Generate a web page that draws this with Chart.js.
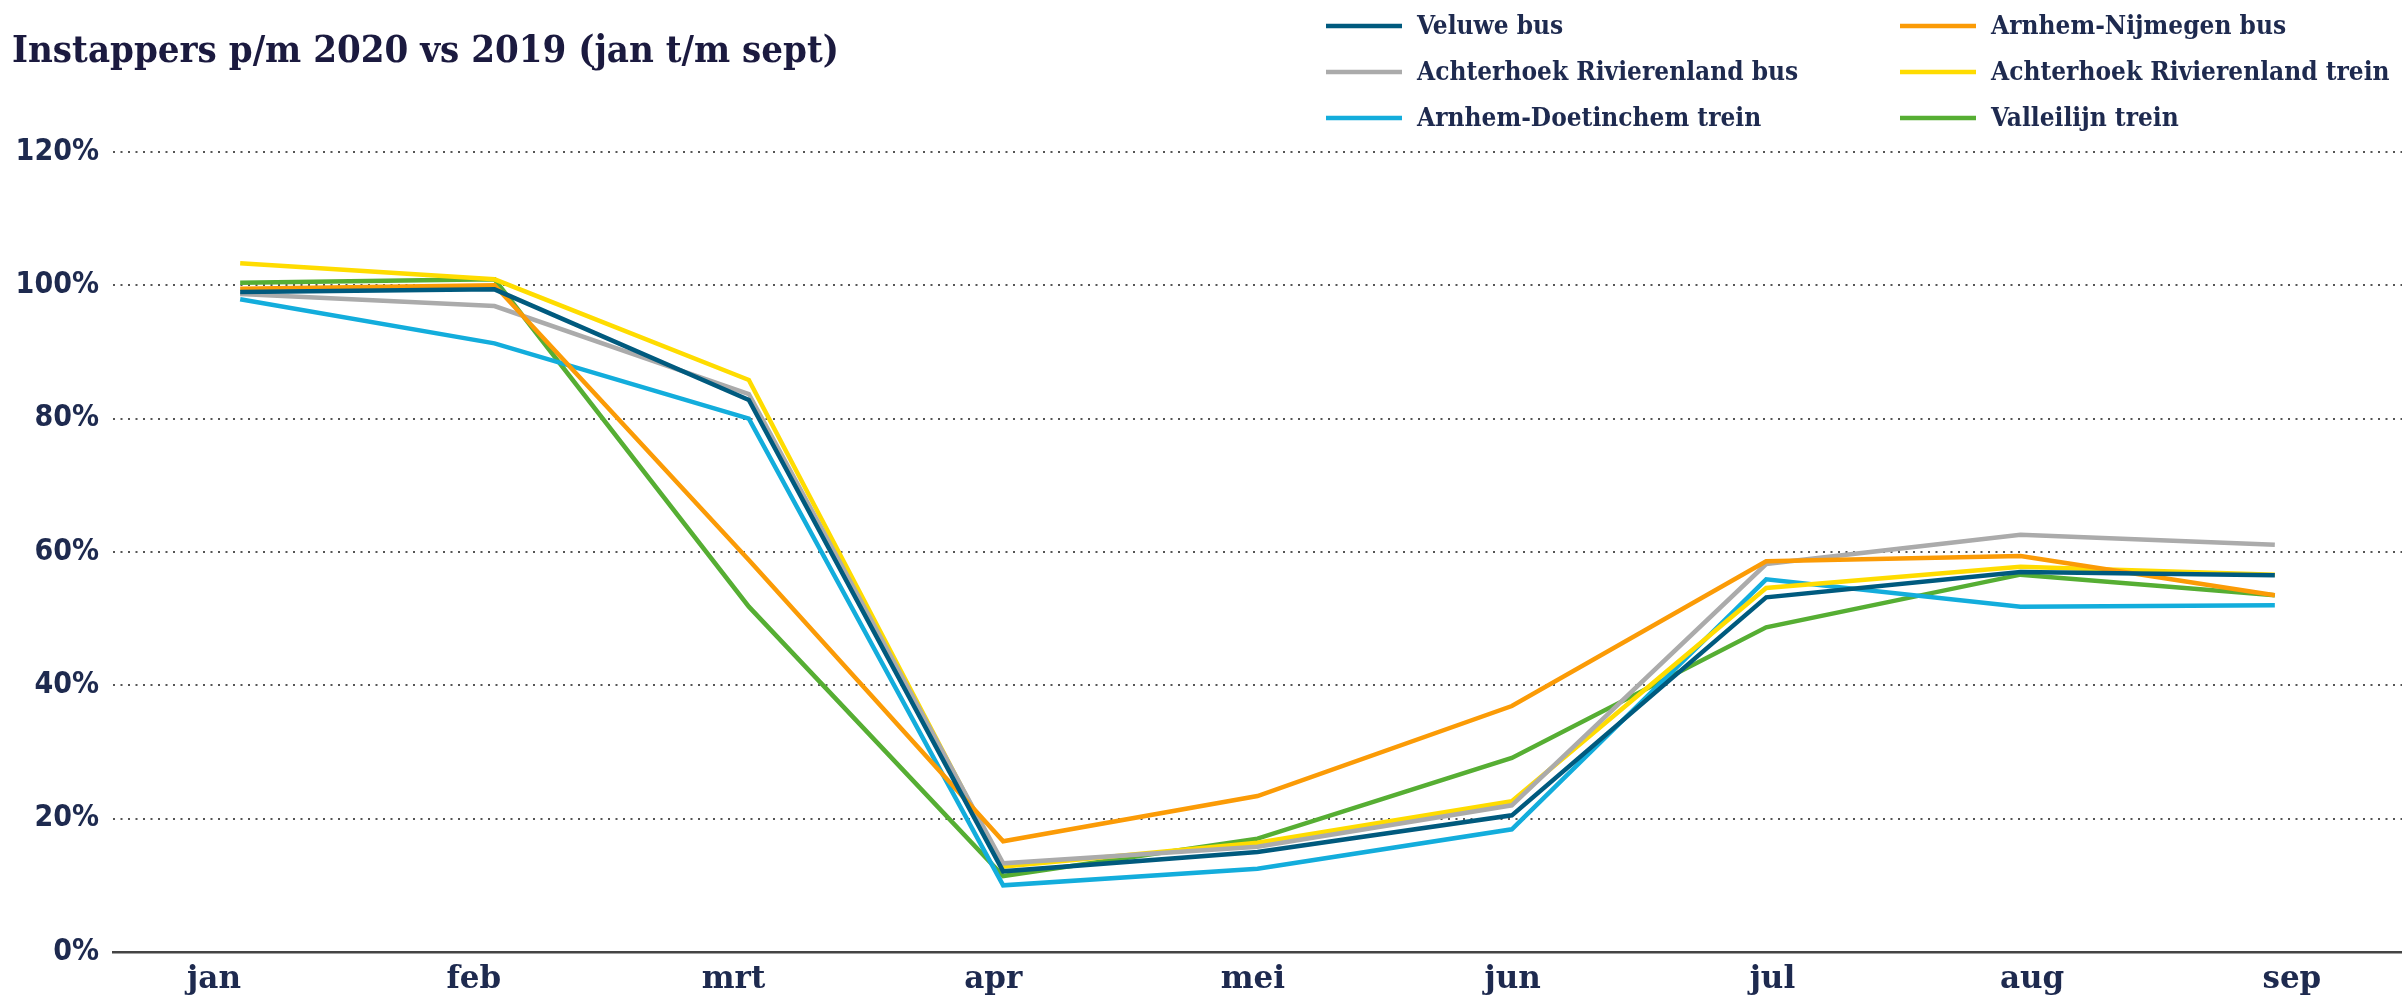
<!DOCTYPE html>
<html lang="nl">
<head>
    <meta charset="UTF-8">
    <title>Instappers p/m 2020 vs 2019</title>
    <script src="https://cdn.jsdelivr.net/npm/chart.js"></script>
    <style>
        html, body {
            margin: 0;
            padding: 0;
            background: #ffffff;
        }
        #wrap {
            width: 2402px;
            height: 997px;
        }
    </style>
</head>
<body>

<div id="wrap"><canvas id="instappers"></canvas></div>

<script>
    // maanden en tick labels
    const months = ['jan', 'feb', 'mrt', 'apr', 'mei', 'jun', 'jul', 'aug', 'sep'];
    const yTicks = [0, 20, 40, 60, 80, 100, 120];

    // instappers 2020 als % van 2019
    const veluweBus         = [99.0, 99.4, 82.8, 12.1, 15.0, 20.5, 53.2, 57.0, 56.5];
    const arnhemNijmegenBus = [99.5, 100.0, 58.8, 16.6, 23.4, 36.9, 58.6, 59.4, 53.5];
    const achterhoekBus     = [98.7, 96.9, 83.7, 13.3, 15.8, 22.0, 58.2, 62.6, 61.1];
    const achterhoekTrein   = [103.3, 100.9, 85.8, 12.8, 16.4, 22.6, 54.6, 57.8, 56.6];
    const arnhemDoetinchem  = [97.9, 91.3, 80.0, 10.0, 12.5, 18.4, 55.9, 51.8, 52.0];
    const valleilijnTrein   = [100.4, 100.9, 51.8, 11.4, 17.0, 29.1, 48.7, 56.6, 53.5];

    const textColor = '#1e2a4f';

    function line(label, data, color) {
        return {
            label: label,
            data: data,
            borderColor: color,
            backgroundColor: color,
            borderWidth: 4.5,
            pointRadius: 0,
            tension: 0,
            fill: false
        };
    }

    // title + legend in two columns, drawn on the canvas
    const headerPlugin = {
        id: 'header',
        afterDraw(chart) {
            const ctx = chart.ctx;
            ctx.save();
            ctx.fillStyle = '#1b1a3f';
            ctx.font = 'bold 38px "DejaVu Serif Condensed", "DejaVu Serif", serif';
            ctx.textBaseline = 'alphabetic';
            ctx.textAlign = 'left';
            ctx.fillText('Instappers p/m 2020 vs 2019 (jan t/m sept)', 12, 62);

            const cols = [1326, 1900];
            const rows = [26, 72, 118];
            ctx.font = 'bold 26px "DejaVu Serif Condensed", "DejaVu Serif", serif';
            ctx.textBaseline = 'middle';
            chart.data.datasets.forEach((ds, i) => {
                const x = cols[i % 2];
                const y = rows[Math.floor(i / 2)];
                ctx.strokeStyle = ds.borderColor;
                ctx.lineWidth = 4.5;
                ctx.beginPath();
                ctx.moveTo(x, y);
                ctx.lineTo(x + 76, y);
                ctx.stroke();
                ctx.fillStyle = textColor;
                ctx.fillText(ds.label, x + 91, y + 1);
            });
            ctx.restore();
        }
    };

    const ctx = document.getElementById('instappers').getContext('2d');
    const chart = new Chart(ctx, {
        type: 'line',
        data: {
            labels: months,
            datasets: [
                line('Veluwe bus', veluweBus, '#005a7e'),
                line('Arnhem-Nijmegen bus', arnhemNijmegenBus, '#fb9b06'),
                line('Achterhoek Rivierenland bus', achterhoekBus, '#ababab'),
                line('Achterhoek Rivierenland trein', achterhoekTrein, '#ffdc00'),
                line('Arnhem-Doetinchem trein', arnhemDoetinchem, '#13addc'),
                line('Valleilijn trein', valleilijnTrein, '#56ae33')
            ]
        },
        options: {
            responsive: true,
            maintainAspectRatio: false,
            animation: false,
            layout: {
                padding: { top: 152, right: 0, left: 0, bottom: 0 }
            },
            plugins: {
                legend: { display: false },
                title: { display: false },
                tooltip: { enabled: false }
            },
            scales: {
                // data axis: carries the lines and the 0% base line
                x: {
                    offset: true,
                    afterFit(scale) { scale.height = 0; },
                    grid: { display: false, drawTicks: false },
                    border: { display: true, color: '#444444', width: 2.5 },
                    ticks: { display: false }
                },
                // label axis: month names sit a bit wider apart than the points
                xLabels: {
                    type: 'linear',
                    position: 'bottom',
                    min: -0.389,
                    max: 8.424,
                    afterFit(scale) { scale.height = 45; },
                    afterBuildTicks(scale) {
                        scale.ticks = months.map((m, i) => ({ value: i }));
                    },
                    grid: { display: false, drawTicks: false },
                    border: { display: false },
                    ticks: {
                        color: textColor,
                        font: { family: '"DejaVu Serif", serif', size: 31, weight: 'bold' },
                        padding: 9,
                        maxRotation: 0,
                        autoSkip: false,
                        callback: v => months[v]
                    }
                },
                y: {
                    min: yTicks[0],
                    max: yTicks[yTicks.length - 1],
                    afterFit(scale) { scale.width = 113; },
                    afterBuildTicks(scale) {
                        scale.ticks = yTicks.map(v => ({ value: v }));
                    },
                    grid: {
                        drawTicks: false,
                        lineWidth: 2,
                        color: c => (c.tick && c.tick.value === 0) ? 'rgba(0,0,0,0)' : '#555555'
                    },
                    border: { display: false, dash: [2, 5.5] },
                    ticks: {
                        color: textColor,
                        padding: 14,
                        font: { family: '"DejaVu Sans Condensed", "DejaVu Sans", sans-serif', size: 30, weight: 'bold' },
                        callback: v => v + '%'
                    }
                }
            }
        },
        plugins: [headerPlugin]
    });
</script>

</body>
</html>
